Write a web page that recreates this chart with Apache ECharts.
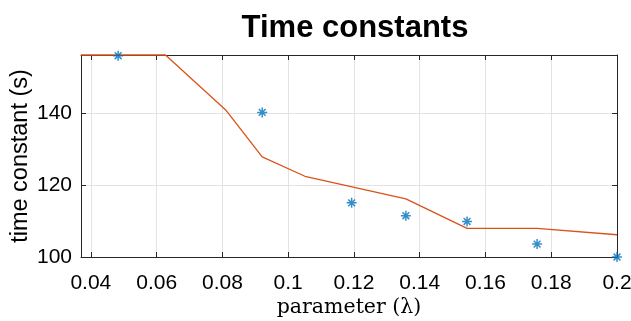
<!DOCTYPE html>
<html>
<head>
<meta charset="utf-8">
<script src="https://cdn.jsdelivr.net/npm/echarts@6/dist/echarts.min.js"></script>
<style>
  html, body { margin: 0; padding: 0; background: #fff; }
  #chart { width: 631px; height: 321px; }
</style>
</head>
<body>
<div id="chart"></div>
<script>
// Measured time constants (asterisks)
const paramMeasured = [0.0483, 0.0921, 0.1193, 0.1358, 0.1544, 0.1757, 0.2];
const tauMeasured   = [156.1, 140.3, 115.1, 111.5, 109.9, 103.6, 100];

// Fitted model curve (line)
const paramModel = [0.037, 0.0627, 0.081, 0.0921, 0.1051, 0.1358, 0.1544, 0.1757, 0.2];
const tauModel   = [156.3, 156.3, 141.0, 127.9, 122.5, 116.2, 108.0, 108.0, 106.2];

// Axis ticks
const xTicks = [0.04, 0.06, 0.08, 0.1, 0.12, 0.14, 0.16, 0.18, 0.2];
const yTicks = [100, 120, 140];

const xRange = [0.037, 0.2];
const yRange = [100, 156.3];

const FONT = '"Liberation Sans", Arial, Helvetica, sans-serif';
const AXIS_COLOR = '#262626';
const GRID_COLOR = '#e3e3e3';

const asterisk = 'path://M5 0L5 10M0 5L10 5M1.6 1.6L8.4 8.4M8.4 1.6L1.6 8.4';

function xAxisDef(position, main) {
  return {
    type: 'value',
    position: position,
    min: xRange[0],
    max: xRange[1],
    name: main ? 'parameter (\u03bb)' : '',
    nameLocation: 'middle',
    nameGap: 40,
    nameMoveOverlap: false,
    nameTextStyle: { fontFamily: '"DejaVu Serif", "Liberation Serif", serif', fontSize: 20.5, color: '#000' },
    axisLine: { show: true, onZero: false, lineStyle: { color: AXIS_COLOR, width: 1 } },
    axisTick: { show: true, inside: true, length: 5, customValues: xTicks, lineStyle: { color: AXIS_COLOR } },
    axisLabel: {
      show: main, customValues: xTicks, margin: 16,
      fontFamily: FONT, fontSize: 21, color: '#000',
      formatter: v => String(+v.toFixed(2))
    },
    splitLine: { show: main, lineStyle: { color: GRID_COLOR, width: 1 } }
  };
}

function yAxisDef(position, main) {
  return {
    type: 'value',
    position: position,
    min: yRange[0],
    max: yRange[1],
    name: main ? 'time constant (s)' : '',
    nameLocation: 'middle',
    nameGap: 48,
    nameMoveOverlap: false,
    nameTextStyle: { fontFamily: FONT, fontSize: 23.5, color: '#000' },
    axisLine: { show: true, onZero: false, lineStyle: { color: AXIS_COLOR, width: 1 } },
    axisTick: { show: true, inside: true, length: 5, customValues: yTicks, lineStyle: { color: AXIS_COLOR } },
    axisLabel: {
      show: main, customValues: yTicks, margin: 9,
      fontFamily: FONT, fontSize: 21, color: '#000'
    },
    splitLine: { show: main, lineStyle: { color: GRID_COLOR, width: 1 } }
  };
}

const chart = echarts.init(document.getElementById('chart'), null, { renderer: 'canvas' });
chart.setOption({
  animation: false,
  backgroundColor: '#fff',
  title: {
    text: 'Time constants',
    left: 350,
    textAlign: 'center',
    top: 8,
    textStyle: { fontFamily: FONT, fontSize: 31, fontWeight: 'bold', color: '#000' }
  },
  grid: { left: 81, right: 14, top: 55, bottom: 64, containLabel: false, outerBoundsMode: 'none' },
  xAxis: [xAxisDef('bottom', true), xAxisDef('top', false)],
  yAxis: [yAxisDef('left', true), yAxisDef('right', false)],
  series: [
    {
      type: 'line',
      data: paramModel.map((x, i) => [x, tauModel[i]]),
      showSymbol: false,
      symbol: 'none',
      clip: false,
      lineStyle: { color: '#D95319', width: 1.3 },
      z: 3
    },
    {
      type: 'scatter',
      data: paramMeasured.map((x, i) => [x, tauMeasured[i]]),
      symbol: asterisk,
      symbolSize: 10,
      clip: false,
      itemStyle: { color: 'transparent', borderColor: '#0072BD', borderWidth: 1.5 },
      z: 4
    }
  ]
});
</script>
</body>
</html>
